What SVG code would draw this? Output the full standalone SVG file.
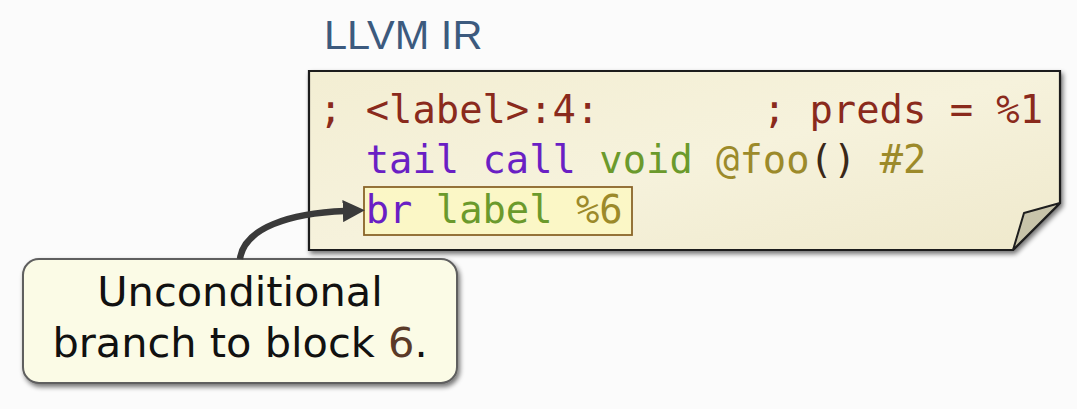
<svg xmlns="http://www.w3.org/2000/svg" width="1077" height="409" viewBox="0 0 1077 409">
<style>
.code{font-family:"DejaVu Sans Mono","Liberation Mono",monospace;font-size:38.8px;white-space:pre}
.cm{fill:#8a2a1c}
.kw{fill:#6a1fc4}
.ty{fill:#6b9a2c}
.id{fill:#9c8a2a}
.pn{fill:#3a2818}
.title{font-family:"Liberation Sans","DejaVu Sans",sans-serif;font-size:41.5px;fill:#3c5a7e}
.call{font-family:"DejaVu Sans","Liberation Sans",sans-serif;font-size:41.5px;fill:#111;text-anchor:middle}
</style>
<defs>
<filter id="sh" x="-10%" y="-10%" width="125%" height="130%">
<feGaussianBlur in="SourceAlpha" stdDeviation="2.5"/>
<feOffset dx="2" dy="3" result="b"/>
<feComponentTransfer><feFuncA type="linear" slope="0.55"/></feComponentTransfer>
<feMerge><feMergeNode/><feMergeNode in="SourceGraphic"/></feMerge>
</filter>
<linearGradient id="paper" x1="0" y1="0" x2="1" y2="1">
<stop offset="0" stop-color="#f3eed3"/>
<stop offset="0.5" stop-color="#f6f2dc"/>
<stop offset="1" stop-color="#efe9cc"/>
</linearGradient>
<marker id="ah" viewBox="0 0 10 10" refX="1" refY="5" markerWidth="3.4" markerHeight="3.4" markerUnits="strokeWidth" orient="auto">
<path d="M0,0 L10,5 L0,10 Z" fill="#3a3a3a"/>
</marker>
</defs>
<rect width="1077" height="409" fill="#fbfbfb"/>
<text class="title" x="324" y="49">LLVM IR</text>
<g id="ir-note">
<path d="M309,71 L1060,71 L1060,203 L1013,250 L309,250 Z" fill="url(#paper)" stroke="#1e1e1e" stroke-width="2.2" filter="url(#sh)"/>
<path d="M1060,203 L1024,213 L1013,250 Z" fill="#c8c4aa" stroke="#1e1e1e" stroke-width="2" stroke-linejoin="round"/>
<rect x="364" y="187" width="268" height="48" fill="#fbf7c6" stroke="#8a6428" stroke-width="1.8"/>
<text class="code" x="319" y="123"><tspan class="cm">; &lt;label&gt;:4:       ; preds = %1</tspan></text>
<text class="code" x="319" y="173">  <tspan class="kw">tail call</tspan> <tspan class="ty">void</tspan> <tspan class="id">@foo</tspan><tspan class="pn">()</tspan> <tspan class="id">#2</tspan></text>
<text class="code" x="319" y="223">  <tspan class="kw">br</tspan> <tspan class="ty">label</tspan> <tspan class="id">%6</tspan></text>
</g>
<g id="callout">
<rect x="23" y="259" width="434" height="124" rx="16" fill="#fbfbe6" stroke="#5e5e5e" stroke-width="2" filter="url(#sh)"/>
<text class="call" x="240" y="306">Unconditional</text>
<text class="call" x="240" y="357">branch to block <tspan fill="#5a3a28">6</tspan>.</text>
</g>
<g id="connectors">
<path d="M240,259 C244,228 290,213 345,211" fill="none" stroke="#3a3a3a" stroke-width="6.5" marker-end="url(#ah)"/>
</g>
</svg>
